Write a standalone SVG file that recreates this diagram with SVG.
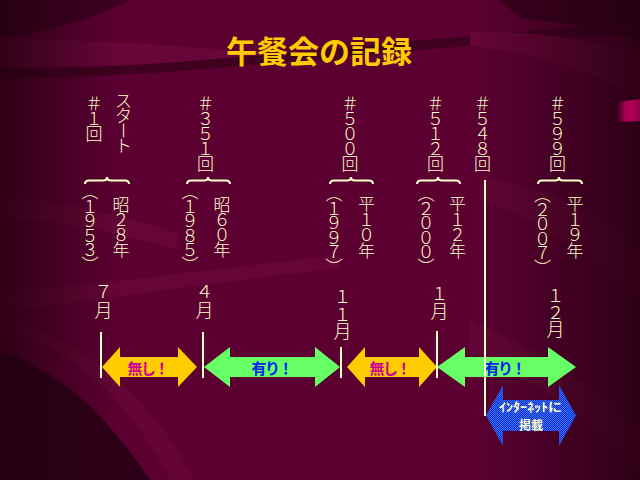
<svg xmlns="http://www.w3.org/2000/svg" width="640" height="480" viewBox="0 0 640 480">
<defs>
<style>
.t{font-family:"Noto Sans CJK JP","Noto Sans CJK SC",sans-serif;fill:#ffffcc;text-anchor:middle;font-weight:300}
.c{font-size:17px}
.m{font-size:18px}
.title{font-family:"Noto Sans CJK JP","Noto Sans CJK SC",sans-serif;font-size:31px;font-weight:bold;fill:#ffcc00;text-anchor:middle}
.lb{font-family:"Noto Sans CJK JP","Noto Sans CJK SC",sans-serif;font-size:15px;font-weight:bold;letter-spacing:-1.6px}
.bl{font-family:"Noto Sans CJK JP","Noto Sans CJK SC",sans-serif;font-size:12px;font-weight:bold;fill:#ffffcc;text-anchor:middle}
.brace{fill:none;stroke:#ffffcc;stroke-width:2}
.tick{stroke:#ffffcc;stroke-width:2}
.ya{fill:#ffcc00}
.ga{fill:#66ff66}
</style>
<linearGradient id="lv" x1="0" y1="0" x2="1" y2="0">
<stop offset="0" stop-color="#22000f" stop-opacity="0.8"/>
<stop offset="1" stop-color="#22000f" stop-opacity="0"/>
</linearGradient>
<linearGradient id="rv" x1="0" y1="0" x2="1" y2="0">
<stop offset="0" stop-color="#22000f" stop-opacity="0"/>
<stop offset="1" stop-color="#22000f" stop-opacity="0.8"/>
</linearGradient>
<linearGradient id="pk" x1="0" y1="0" x2="1" y2="0">
<stop offset="0" stop-color="#a0004f" stop-opacity="0"/>
<stop offset="0.35" stop-color="#a8004f"/>
<stop offset="0.7" stop-color="#b00058"/>
<stop offset="1" stop-color="#8a0045"/>
</linearGradient>
<pattern id="chk" width="2" height="2" patternUnits="userSpaceOnUse">
<rect width="2" height="2" fill="#0a2ec8"/>
<rect width="1" height="1" fill="#3f70ff"/>
<rect x="1" y="1" width="1" height="1" fill="#3f70ff"/>
</pattern>
</defs>

<g id="background">
<rect width="640" height="480" fill="#5c0032"/>
<path d="M0,0 H130 C90,20 50,32 0,38 Z" fill="#3e0020"/>
<path d="M500,0 H640 V40 C600,30 560,22 520,18 Z" fill="#3a001d"/>
<path d="M0,40 C100,38 200,48 280,54 L270,64 C180,62 90,66 0,68 Z" fill="#68063a"/>
<path d="M0,68 C150,72 300,48 640,22 L640,32 C300,58 150,80 0,78 Z" fill="#40001f"/>
<path d="M470,32 C540,30 600,42 640,56 L640,98 C600,74 540,54 470,46 Z" fill="#680538"/>
<path d="M0,197 C60,200 120,214 180,234 L175,250 C120,232 60,220 0,218 Z" fill="#660537"/>
<path d="M0,292 C100,285 220,268 340,255 L340,268 C220,282 100,300 0,312 Z" fill="#660537"/>
<path d="M0,330 C70,345 130,400 170,480 L195,480 C150,395 80,335 0,318 Z" fill="#640536"/>
<path d="M0,352 C60,368 110,420 150,480 L0,480 Z" fill="#2e0017"/>
<path d="M480,200 C540,220 600,260 640,300 L640,250 C600,215 540,185 480,175 Z" fill="#650537"/>
<path d="M470,320 C540,350 600,390 640,430 L640,470 C600,430 540,385 470,350 Z" fill="#650537"/>
<rect x="0" y="0" width="120" height="480" fill="url(#lv)"/>
<rect x="470" y="0" width="170" height="480" fill="url(#rv)"/>
<path d="M617,102 L640,99 V121 L617,122 Z" fill="url(#pk)"/>
</g>

<text id="title" class="title" x="319" y="63">午餐会の記録</text>

<g id="node-1">
<text class="t c"><tspan x="94" y="110">＃</tspan><tspan x="94" y="125">１</tspan><tspan x="94" y="140">回</tspan></text>
<text class="t c"><tspan x="123.5" y="107">ス</tspan><tspan x="123.5" y="122">タ</tspan><tspan x="123.5" y="152">ト</tspan></text>
<text class="t c" x="123.5" y="137" transform="rotate(90 123.5 130.5)">ー</text>
<path class="brace" d="M85,184 Q85,180.5 89,180.5 L103,180.5 Q107,180.5 107,177 Q107,180.5 111,180.5 L125,180.5 Q129,180.5 129,184"/>
<text class="t c"><tspan x="90" y="198">︵</tspan><tspan x="90" y="212.6">１</tspan><tspan x="90" y="227.2">９</tspan><tspan x="90" y="241.8">５</tspan><tspan x="90" y="256.4">３</tspan><tspan x="90" y="271">︶</tspan></text>
<text class="t c"><tspan x="121" y="211">昭</tspan><tspan x="121" y="226">２</tspan><tspan x="121" y="241">８</tspan><tspan x="121" y="256">年</tspan></text>
</g>

<g id="node-2">
<text class="t c"><tspan x="205.5" y="110">＃</tspan><tspan x="205.5" y="125">３</tspan><tspan x="205.5" y="140">５</tspan><tspan x="205.5" y="155">１</tspan><tspan x="205.5" y="170">回</tspan></text>
<path class="brace" d="M187,184 Q187,180.5 191,180.5 L204,180.5 Q208,180.5 208,177 Q208,180.5 212,180.5 L226,180.5 Q230,180.5 230,184"/>
<text class="t c"><tspan x="190" y="198">︵</tspan><tspan x="190" y="212.6">１</tspan><tspan x="190" y="227.2">９</tspan><tspan x="190" y="241.8">８</tspan><tspan x="190" y="256.4">５</tspan><tspan x="190" y="271">︶</tspan></text>
<text class="t c"><tspan x="222" y="211">昭</tspan><tspan x="222" y="226">６</tspan><tspan x="222" y="241">０</tspan><tspan x="222" y="256">年</tspan></text>
</g>

<g id="node-3">
<text class="t c"><tspan x="350" y="110">＃</tspan><tspan x="350" y="125">５</tspan><tspan x="350" y="140">０</tspan><tspan x="350" y="155">０</tspan><tspan x="350" y="170">回</tspan></text>
<path class="brace" d="M330,184 Q330,180.5 334,180.5 L347,180.5 Q351,180.5 351,177 Q351,180.5 355,180.5 L369,180.5 Q373,180.5 373,184"/>
<text class="t c"><tspan x="334" y="200">︵</tspan><tspan x="334" y="214.6">１</tspan><tspan x="334" y="229.2">９</tspan><tspan x="334" y="243.8">９</tspan><tspan x="334" y="258.4">７</tspan><tspan x="334" y="273">︶</tspan></text>
<text class="t c"><tspan x="366.5" y="210">平</tspan><tspan x="366.5" y="225.5">１</tspan><tspan x="366.5" y="241">０</tspan><tspan x="366.5" y="256.5">年</tspan></text>
</g>

<g id="node-4">
<text class="t c"><tspan x="435.5" y="110">＃</tspan><tspan x="435.5" y="125">５</tspan><tspan x="435.5" y="140">１</tspan><tspan x="435.5" y="155">２</tspan><tspan x="435.5" y="170">回</tspan></text>
<path class="brace" d="M417,184 Q417,180.5 421,180.5 L434,180.5 Q438,180.5 438,177 Q438,180.5 442,180.5 L456,180.5 Q460,180.5 460,184"/>
<text class="t c"><tspan x="426" y="200">︵</tspan><tspan x="426" y="214.6">２</tspan><tspan x="426" y="229.2">０</tspan><tspan x="426" y="243.8">０</tspan><tspan x="426" y="258.4">０</tspan><tspan x="426" y="273">︶</tspan></text>
<text class="t c"><tspan x="457.5" y="210">平</tspan><tspan x="457.5" y="225.5">１</tspan><tspan x="457.5" y="241">２</tspan><tspan x="457.5" y="256.5">年</tspan></text>
</g>

<g id="node-5">
<text class="t c"><tspan x="482.5" y="110">＃</tspan><tspan x="482.5" y="125">５</tspan><tspan x="482.5" y="140">４</tspan><tspan x="482.5" y="155">８</tspan><tspan x="482.5" y="170">回</tspan></text>
</g>

<g id="node-6">
<text class="t c"><tspan x="557.5" y="110">＃</tspan><tspan x="557.5" y="125">５</tspan><tspan x="557.5" y="140">９</tspan><tspan x="557.5" y="155">９</tspan><tspan x="557.5" y="170">回</tspan></text>
<path class="brace" d="M538,184 Q538,180.5 542,180.5 L555,180.5 Q559,180.5 559,177 Q559,180.5 563,180.5 L578,180.5 Q582,180.5 582,184"/>
<text class="t c"><tspan x="542.5" y="201">︵</tspan><tspan x="542.5" y="215.6">２</tspan><tspan x="542.5" y="230.2">０</tspan><tspan x="542.5" y="244.8">０</tspan><tspan x="542.5" y="259.4">７</tspan><tspan x="542.5" y="274">︶</tspan></text>
<text class="t c"><tspan x="575" y="210">平</tspan><tspan x="575" y="225.5">１</tspan><tspan x="575" y="241">９</tspan><tspan x="575" y="256.5">年</tspan></text>
</g>

<g id="months">
<text class="t m"><tspan x="103.5" y="297.8">７</tspan><tspan x="103.5" y="317.3">月</tspan></text>
<text class="t m"><tspan x="204.5" y="297.8">４</tspan><tspan x="204.5" y="317.3">月</tspan></text>
<text class="t m"><tspan x="342.5" y="303.3">１</tspan><tspan x="342.5" y="320.5">１</tspan><tspan x="342.5" y="337.7">月</tspan></text>
<text class="t m"><tspan x="439.5" y="300.3">１</tspan><tspan x="439.5" y="317.8">月</tspan></text>
<text class="t m"><tspan x="555.5" y="301.8">１</tspan><tspan x="555.5" y="318.8">２</tspan><tspan x="555.5" y="335.8">月</tspan></text>
</g>

<g id="arrow-1">
<polygon class="ya" points="102,367 120,347 120,357 178,357 178,347 197,367 178,387 178,377 120,377 120,387"/>
<text class="lb" x="127.5" y="374" fill="#cc0099">無し！</text>
</g>
<g id="arrow-2">
<polygon class="ga" points="204,367 230,347 230,357 315,357 315,347 340,367 315,387 315,377 230,377 230,387"/>
<text class="lb" x="251.5" y="374" fill="#0022ee">有り！</text>
</g>
<g id="arrow-3">
<polygon class="ya" points="347,367 365,347 365,357 419,357 419,347 437,367 419,387 419,377 365,377 365,387"/>
<text class="lb" x="369.5" y="374" fill="#cc0099">無し！</text>
</g>
<g id="arrow-4">
<polygon class="ga" points="437,367 465,347 465,357 548,357 548,347 576,367 548,387 548,377 465,377 465,387"/>
<text class="lb" x="484.5" y="374" fill="#0022ee">有り！</text>
</g>
<g id="arrow-5">
<polygon fill="url(#chk)" points="486,415.5 503,385 503,400 559,400 559,385 576,415.5 559,446 559,431 503,431 503,446"/>
<text class="bl" x="530.5" y="412" textLength="63" lengthAdjust="spacingAndGlyphs">ｲﾝﾀｰﾈｯﾄに</text>
<text class="bl" x="531" y="430">掲載</text>
</g>

<g id="connectors">
<line class="tick" x1="101" y1="332" x2="101" y2="378"/>
<line class="tick" x1="203" y1="332" x2="203" y2="378"/>
<line class="tick" x1="341" y1="347" x2="341" y2="378"/>
<line class="tick" x1="437" y1="331" x2="437" y2="378"/>
<line class="tick" x1="485" y1="180" x2="485" y2="416"/>
</g>
</svg>
